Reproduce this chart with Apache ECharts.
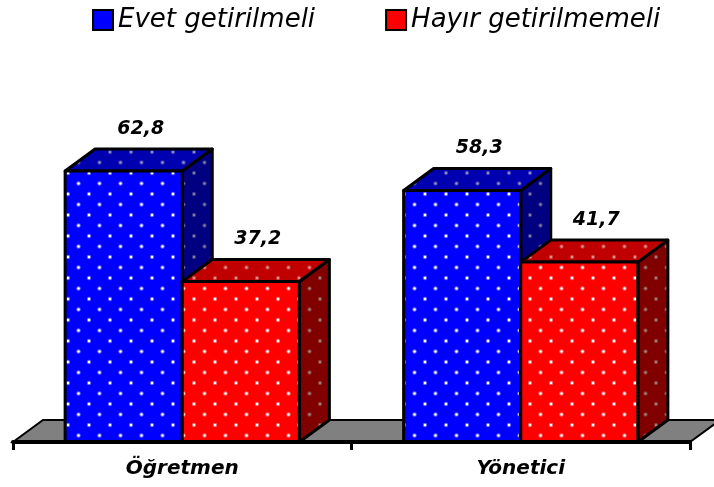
<!DOCTYPE html>
<html>
<head>
<meta charset="utf-8">
<script src="https://cdn.jsdelivr.net/npm/echarts@6/dist/echarts.min.js"></script>
<style>
  html, body { margin: 0; padding: 0; background: #fff; }
  #chart { width: 714px; height: 487px; }
</style>
</head>
<body>
<div id="chart"></div>
<script>
var categories = ['Öğretmen', 'Yönetici'];
var seriesNames = ['Evet getirilmeli', 'Hayır getirilmemeli'];
var evetValues = [62.8, 58.3];
var hayirValues = [37.2, 41.7];

// 3D derinlik
var DX = 30, DY = 22;

function makePattern(bg, dot) {
    var c = document.createElement('canvas');
    c.width = 21; c.height = 21;
    var ctx = c.getContext('2d');
    ctx.fillStyle = bg;
    ctx.fillRect(0, 0, 21, 21);
    [[5, 5], [15.5, 15.5]].forEach(function (p) {
        ctx.fillStyle = dot;
        ctx.globalAlpha = 0.4;
        ctx.beginPath(); ctx.arc(p[0], p[1], 2.2, 0, Math.PI * 2); ctx.fill();
        ctx.globalAlpha = 1;
        ctx.beginPath(); ctx.arc(p[0], p[1], 1.2, 0, Math.PI * 2); ctx.fill();
    });
    return { image: c, repeat: 'repeat' };
}

var faces = [
    { front: makePattern('#0000ff', '#ffffff'), top: makePattern('#0000b0', '#9090c0'), side: makePattern('#000080', '#8080a0') },
    { front: makePattern('#ff0000', '#ffffff'), top: makePattern('#c00000', '#e09090'), side: makePattern('#800000', '#a08080') }
];

function fmt(v) {
    return v.toFixed(1).replace('.', ',');
}

function barRenderer(idx) {
    return function (params, api) {
        var cat = api.value(0);
        var v = api.value(1);
        var top = api.coord([cat, v]);
        var base = api.coord([cat, 0]);
        var bandW = api.size([1, 0])[0];
        var w = bandW * 0.346;
        var x0 = top[0] + (idx === 0 ? -w : 0);
        var x1 = x0 + w;
        var yt = top[1], yb = base[1];
        var f = faces[idx];
        var line = { stroke: '#000', lineWidth: 3, lineJoin: 'round' };
        return {
            type: 'group',
            children: [
                { type: 'polygon', shape: { points: [[x1, yt], [x1 + DX, yt - DY], [x1 + DX, yb - DY], [x1, yb]] },
                  style: Object.assign({ fill: f.side }, line) },
                { type: 'polygon', shape: { points: [[x0, yt], [x0 + DX, yt - DY], [x1 + DX, yt - DY], [x1, yt]] },
                  style: Object.assign({ fill: f.top }, line) },
                { type: 'rect', shape: { x: x0, y: yt, width: w, height: yb - yt },
                  style: Object.assign({ fill: f.front }, line) },
                { type: 'text', x: (x0 + x1) / 2 + 17, y: yt - 42,
                  style: { text: fmt(v), font: 'italic bold 19px "DejaVu Sans"', fill: '#000', align: 'center', verticalAlign: 'middle' } }
            ]
        };
    };
}

function floorRenderer(params, api) {
    var cs = params.coordSys;
    var yb = cs.y + cs.height;
    var xl = cs.x, xr = cs.x + cs.width;
    return {
        type: 'polygon',
        shape: { points: [[xl, yb], [xl + DX, yb - DY], [xr + DX, yb - DY], [xr, yb]] },
        style: { fill: '#808080', stroke: '#000', lineWidth: 2 }
    };
}

var chart = echarts.init(document.getElementById('chart'));
var option = {
    animation: false,
    legend: {
        top: 7,
        left: 92,
        padding: 0,
        itemWidth: 20,
        itemHeight: 20,
        itemGap: 70,
        icon: 'rect',
        textStyle: { fontFamily: 'DejaVu Sans', fontStyle: 'italic', fontSize: 26, color: '#000' },
        data: [
            { name: seriesNames[0], itemStyle: { color: '#0000ff', borderColor: '#000', borderWidth: 2 } },
            { name: seriesNames[1], itemStyle: { color: '#ff0000', borderColor: '#000', borderWidth: 2 } }
        ]
    },
    grid: { left: 13, right: 24, top: 140, bottom: 45 },
    xAxis: {
        type: 'category',
        data: categories,
        z: 10,
        axisLine: { show: true, lineStyle: { color: '#000', width: 4 } },
        axisTick: { show: true, inside: false, length: 8, lineStyle: { color: '#000', width: 3 } },
        axisLabel: { margin: 17, color: '#000', fontFamily: 'DejaVu Sans', fontStyle: 'italic', fontWeight: 'bold', fontSize: 20 }
    },
    yAxis: { type: 'value', min: 0, max: 70, show: false },
    series: [
        { type: 'custom', name: 'floor', renderItem: floorRenderer, data: [[0, 0]], z: 1, silent: true },
        { type: 'custom', name: seriesNames[0], renderItem: barRenderer(0), z: 2,
          itemStyle: { color: '#0000ff' },
          data: evetValues.map(function (v, i) { return [i, v]; }), encode: { x: 0, y: 1 } },
        { type: 'custom', name: seriesNames[1], renderItem: barRenderer(1), z: 3,
          itemStyle: { color: '#ff0000' },
          data: hayirValues.map(function (v, i) { return [i, v]; }), encode: { x: 0, y: 1 } }
    ]
};
chart.setOption(option);
</script>
</body>
</html>
